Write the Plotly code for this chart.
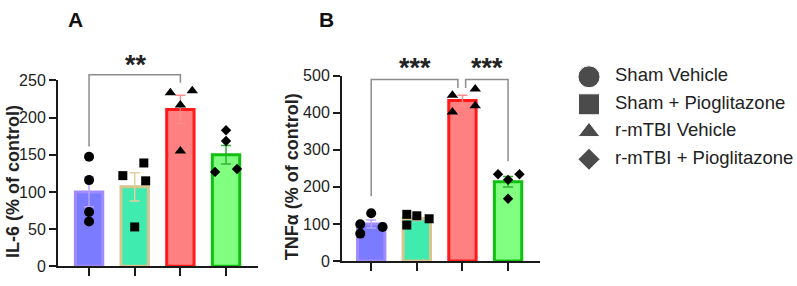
import plotly.graph_objects as go

# ---------------- data ----------------
groups = ["Sham Vehicle", "Sham + Pioglitazone", "r-mTBI Vehicle", "r-mTBI + Pioglitazone"]
symbols = ["circle", "square", "triangle-up", "diamond"]

il6_mean = [100, 107, 211, 150]
il6_sem = [20, 19, 19, 12.5]
il6_points = [[147.5, 116, 73, 60.3], [122, 139, 115, 53], [233.5, 236, 217, 155], [183, 168.5, 127, 131]]
il6_jitter = [[0, 0, 0, 0], [-0.26, 0.2, 0.24, 0], [-0.22, 0.26, 0, 0], [0, 0, -0.24, 0.24]]

tnf_mean = [100, 115, 433, 214]
tnf_sem = [11, 6, 14, 14]
tnf_points = [[129, 99, 92, 74], [126, 122, 114, 97], [447, 464, 402, 419], [234, 234, 219, 168]]
tnf_jitter = [[0, -0.24, 0.25, -0.24], [-0.22, 0, 0.27, -0.22], [-0.22, 0.28, -0.22, 0.28], [-0.22, 0.25, 0, 0]]

# significance brackets: (x_start, y_start, x_end, y_end, y_top)
il6_brackets = [(0, 161, 2, 247, 257.5)]
tnf_brackets = [(0, 175, 1.9, 467, 490), (2.07, 467, 3, 269, 490)]
il6_stars = [(1.03, 271, "**")]
tnf_stars = [(0.96, 521, "***"), (2.54, 521, "***")]

fill_colors = ["#7B7BFF", "#40EBB0", "#FF8080", "#80FF80"]
line_colors = ["#A28BFF", "#D6C68E", "#FF1A1A", "#10C010"]
err_colors = ["#B8A4FF", "#E2CFA0", "#FF8C8C", "#30B030"]

FONT = "Arial, Liberation Sans, sans-serif"

fig = go.Figure()

panels = [
    ("x", "y", il6_mean, il6_sem, il6_points, il6_jitter),
    ("x2", "y2", tnf_mean, tnf_sem, tnf_points, tnf_jitter),
]

for xa, ya, mean, sem, pts, jit in panels:
    for i in range(4):
        fig.add_trace(go.Bar(
            x=[i], y=[mean[i]], width=0.6, xaxis=xa, yaxis=ya,
            marker=dict(color=fill_colors[i], line=dict(color=line_colors[i], width=3)),
            error_y=dict(type="data", array=[sem[i]], color=err_colors[i], thickness=1.5, width=5),
            showlegend=False, hoverinfo="skip",
        ))
    for i in range(4):
        fig.add_trace(go.Scatter(
            x=[i + j for j in jit[i]], y=pts[i], mode="markers", xaxis=xa, yaxis=ya,
            marker=dict(symbol=symbols[i], color="black",
                        size=[10, 9, 10, 8][i]),
            showlegend=False, hoverinfo="skip", cliponaxis=False,
        ))

# legend drawn as markers + text in its own hidden axis
fig.add_trace(go.Scatter(
    x=[0] * 4, y=list(range(4)), mode="markers", xaxis="x3", yaxis="y3",
    marker=dict(symbol=symbols, color="black", size=[22, 21, 19, 17]),
    showlegend=False, hoverinfo="skip",
))
fig.add_trace(go.Scatter(
    x=[1.0] * 4, y=list(range(4)), mode="text", xaxis="x3", yaxis="y3",
    text=groups, textposition="middle right",
    textfont=dict(family=FONT, size=18.5, color="#222222"),
    showlegend=False, hoverinfo="skip",
))

shapes = []
annotations = []
for xa, ya, ymax, brackets, stars in [("x", "y", 250, il6_brackets, il6_stars),
                                       ("x2", "y2", 500, tnf_brackets, tnf_stars)]:
    for x0, y0, x1, y1, yt in brackets:
        path = "M {},{} L {},{} L {},{} L {},{}".format(
            x0, y0 / ymax, x0, yt / ymax, x1, yt / ymax, x1, y1 / ymax)
        shapes.append(dict(type="path", path=path, xref=xa, yref=ya + " domain",
                           line=dict(color="#8C8C8C", width=1.5)))
    for sx, sy, txt in stars:
        annotations.append(dict(x=sx, y=sy / ymax, xref=xa, yref=ya + " domain",
                                text="<b>" + txt + "</b>", showarrow=False,
                                font=dict(family=FONT, size=27, color="#222222"),
                                xanchor="center", yanchor="middle"))

annotations += [
    dict(x=75 / 797, y=1 - 12 / 286, xref="paper", yref="paper", text="<b>A</b>",
         showarrow=False, font=dict(family=FONT, size=21, color="#111111"),
         xanchor="center", yanchor="middle"),
    dict(x=326 / 797, y=1 - 12 / 286, xref="paper", yref="paper", text="<b>B</b>",
         showarrow=False, font=dict(family=FONT, size=21, color="#111111"),
         xanchor="center", yanchor="middle"),
    dict(x=13 / 797, y=1 - 185 / 286, xref="paper", yref="paper",
         text="<b>IL-6 (% of control)</b>", textangle=-90, showarrow=False,
         font=dict(family=FONT, size=18, color="#222222"), xanchor="center", yanchor="middle"),
    dict(x=292 / 797, y=1 - 180 / 286, xref="paper", yref="paper",
         text="<b>TNFα (% of control)</b>", textangle=-90, showarrow=False,
         font=dict(family=FONT, size=18, color="#222222"), xanchor="center", yanchor="middle"),
]

yaxis_common = dict(showline=True, linecolor="#1a1a1a", linewidth=2, ticks="outside",
                    ticklen=7, tickwidth=2, tickcolor="#1a1a1a", showgrid=False, zeroline=False,
                    tickfont=dict(family=FONT, size=16, color="#222222"), tickprefix="<b>",
                    ticksuffix="</b>")
xaxis_common = dict(showline=True, linecolor="#1a1a1a", linewidth=2, ticks="outside",
                    ticklen=8, tickwidth=2, tickcolor="#1a1a1a", showgrid=False, zeroline=False,
                    tickvals=[0, 1, 2, 3], showticklabels=False)

fig.update_layout(
    width=797, height=286,
    margin=dict(l=0, r=0, t=0, b=0),
    paper_bgcolor="white", plot_bgcolor="white",
    barmode="overlay",
    showlegend=False,
    xaxis=dict(domain=[58 / 797, 258 / 797], range=[-0.68, 3.70], anchor="y", **xaxis_common),
    yaxis=dict(domain=[(286 - 274.7) / 286, (286 - 77) / 286], range=[0, 250], anchor="x",
               tickvals=[0, 50, 100, 150, 200, 250], **yaxis_common),
    xaxis2=dict(domain=[342 / 797, 540 / 797], range=[-0.64, 3.70], anchor="y2", **xaxis_common),
    yaxis2=dict(domain=[(286 - 269) / 286, (286 - 72) / 286], range=[0, 500], anchor="x2",
                tickvals=[0, 100, 200, 300, 400, 500], **yaxis_common),
    xaxis3=dict(domain=[560 / 797, 1], range=[-29 / 26, 208 / 26], visible=False),
    yaxis3=dict(domain=[(286 - 175.5) / 286, (286 - 58.5) / 286], range=[3.5, -0.5],
                visible=False, anchor="x3"),
    shapes=shapes,
    annotations=annotations,
)

fig.write_html(
    "out.html",
    config={"displayModeBar": False},
    post_script=(
        "document.body.style.margin='0';"
        "document.documentElement.style.overflow='hidden';"
        "var d=document.querySelector('.plotly-graph-div');"
        "d.style.position='fixed';d.style.top='0px';d.style.left='0px';"
    ),
)
